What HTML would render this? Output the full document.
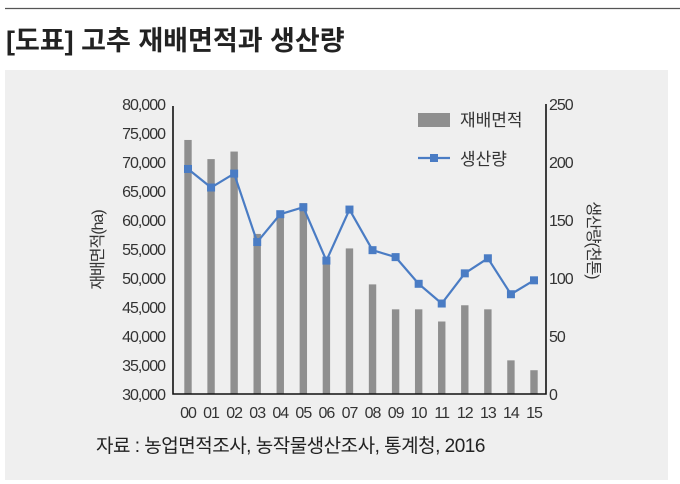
<!DOCTYPE html>
<html><head><meta charset="utf-8"><style>
body{margin:0;width:680px;height:484px;background:#fff;overflow:hidden;font-family:"Liberation Sans","Noto Sans CJK KR",sans-serif}
</style></head><body>
<svg width="680" height="484" style="position:absolute;left:0;top:0">
<line x1="5" y1="8.5" x2="680" y2="8.5" stroke="#555" stroke-width="1.2"/>
<text x="6" y="50" font-size="27" font-weight="600" fill="#222" font-family="Liberation Sans,Noto Sans CJK KR,sans-serif">[도표] 고추 재배면적과 생산량</text>
<rect x="5" y="70" width="663" height="410" fill="#efefef"/>
<g id="plot"></g>
</svg>
<script>
const years=["00","01","02","03","04","05","06","07","08","09","10","11","12","13","14","15"];
const area=[73800,70500,71800,57600,61500,62900,53200,55100,48900,44600,44600,42500,45300,44600,35800,34100];
const prod=[194,178,190,131,155,161,115,159,124,118,95,78,104,117,86,98];
const leftTicks=[30000,35000,40000,45000,50000,55000,60000,65000,70000,75000,80000];
const rightTicks=[0,50,100,150,200,250];
const NS="http://www.w3.org/2000/svg";
const g=document.getElementById('plot');
const X0=173,X1=546,Yb=394,Yt=104;
const yL=v=>Yb-(v-30000)/50000*(Yb-Yt);
const yR=v=>Yb-v/250*(Yb-Yt);
const xC=i=>188+i*(534-188)/15;
function el(t,a,txt){const e=document.createElementNS(NS,t);for(const k in a)e.setAttribute(k,a[k]);if(txt!=null)e.textContent=txt;g.appendChild(e);return e;}
const F='Liberation Sans,Noto Sans CJK KR,sans-serif';
area.forEach((v,i)=>{const e=el('rect',{x:xC(i)-3.7,y:yL(v),width:7.4,height:Yb-yL(v),fill:'#8f8f8f'});

});
let e=el('polyline',{points:'173,106 173,394 546,394 546,104',fill:'none',stroke:'#111','stroke-width':1.6});


leftTicks.forEach(v=>{const t=el('text',{x:165,y:yL(v)+6,'font-size':16,'text-anchor':'end',fill:'#333','font-family':F,'letter-spacing':'-1'},v.toLocaleString('en-US'));

});
rightTicks.forEach(v=>{const t=el('text',{x:549,y:yR(v)+6,'font-size':16,fill:'#333','font-family':F,'letter-spacing':'-1'},v);

});
years.forEach((y,i)=>{const t=el('text',{x:xC(i),y:418,'font-size':16,'text-anchor':'middle',fill:'#333','font-family':F,'letter-spacing':'-1'},y);

});
e=el('polyline',{points:prod.map((v,i)=>xC(i)+','+yR(v)).join(' '),fill:'none',stroke:'#4a7cc4','stroke-width':2.2});


prod.forEach((v,i)=>{const r=el('rect',{x:xC(i)-4,y:yR(v)-4,width:8,height:8,fill:'#4a7cc4'});

});
e=el('rect',{x:418,y:113,width:32,height:14,fill:'#8f8f8f'});


e=el('text',{x:460,y:126,'font-size':17,fill:'#333','font-family':F},'재배면적');


e=el('line',{x1:418,y1:158,x2:450,y2:158,stroke:'#4a7cc4','stroke-width':2.2});


e=el('rect',{x:430,y:154,width:8,height:8,fill:'#4a7cc4'});


e=el('text',{x:460,y:165,'font-size':17,fill:'#333','font-family':F},'생산량');


e=el('text',{x:0,y:0,'font-size':16,fill:'#333','font-family':F,'text-anchor':'middle',transform:'translate(103,250) rotate(-90)','letter-spacing':'-1'},'재배면적(ha)');


e=el('text',{x:0,y:0,'font-size':16,fill:'#333','font-family':F,'text-anchor':'middle',transform:'translate(588,240) rotate(90)','letter-spacing':'-1'},'생산량(천톤)');


e=el('text',{x:96,y:452,'font-size':19,fill:'#222','font-family':F,'letter-spacing':'-0.5'},'자료 : 농업면적조사, 농작물생산조사, 통계청, 2016');


</script>
</body></html>
